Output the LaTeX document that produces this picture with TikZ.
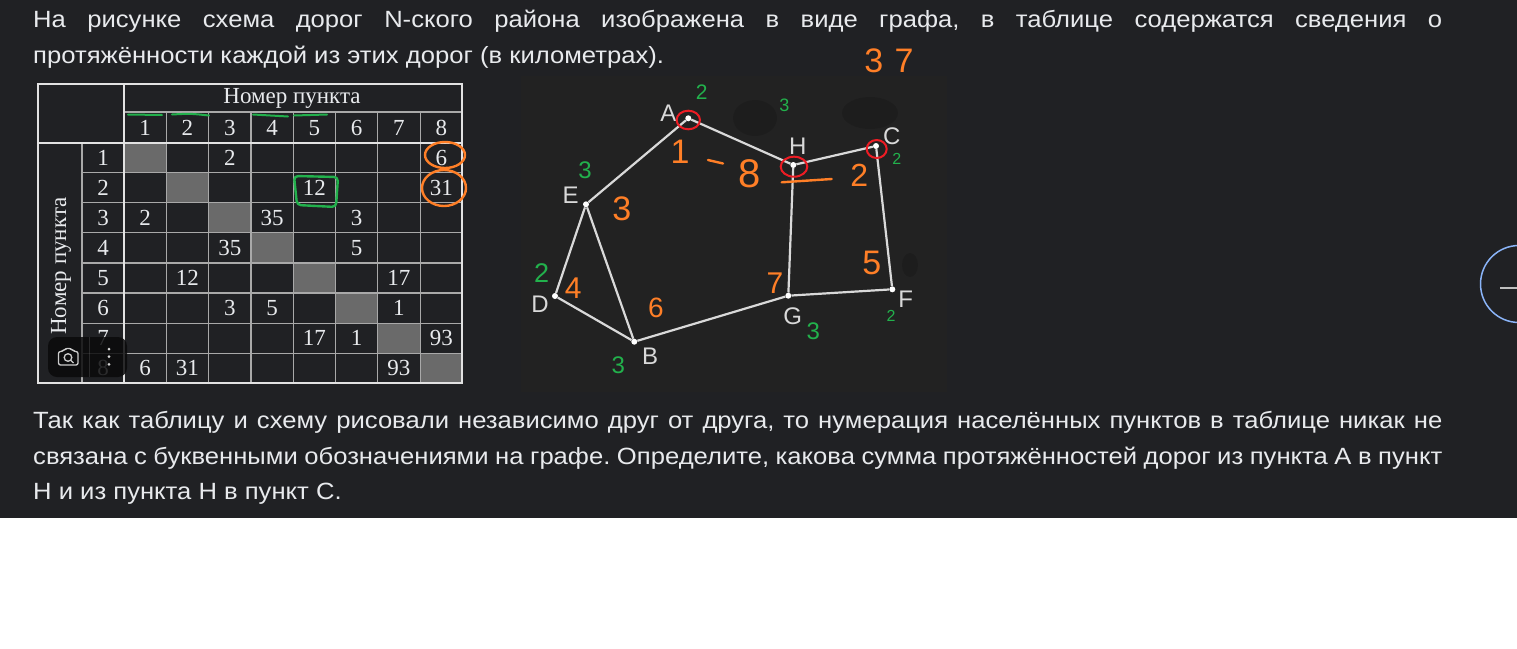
\documentclass[tikz,border=0pt]{standalone}
\usepackage{graphicx}
\usepackage{fontspec}
\setmainfont{Liberation Sans}
\newfontfamily\tablefont{Liberation Serif}
\definecolor{pagebg}{HTML}{202124}
\definecolor{pagetext}{HTML}{E8EAED}
\definecolor{graphbg}{HTML}{222222}
\definecolor{gridline}{HTML}{A9A9A9}
\definecolor{gridbold}{HTML}{E2E2E2}
\definecolor{diagcell}{HTML}{6A6A6A}
\definecolor{roadline}{HTML}{D9D9D9}
\definecolor{markorange}{HTML}{FF7F27}
\definecolor{markgreen}{HTML}{22B14C}
\definecolor{markred}{HTML}{ED1C24}
\definecolor{sideblue}{HTML}{8AB4F8}
\newcommand{\wideline}[1]{\scalebox{1.09}[1]{#1}}
\frenchspacing
\begin{document}
\begin{tikzpicture}
[
    x=1pt, y=-1pt,
    textline/.style={anchor=base west, inner sep=0pt, text=pagetext, font=\fontsize{23.5}{26}\selectfont},
    cellnum/.style={text=pagetext, inner sep=0pt, font=\tablefont\fontsize{23}{24}\selectfont},
    town/.style={circle, fill=white, inner sep=0pt, minimum size=6pt},
    townlabel/.style={text=roadline, inner sep=0pt, font=\fontsize{24}{24}\selectfont},
    road/.style={draw=roadline, line width=2.2pt},
    orangemark/.style={text=markorange, inner sep=0pt, font=\fontsize{#1}{#1}\selectfont},
    greenmark/.style={text=markgreen, inner sep=0pt, font=\fontsize{#1}{#1}\selectfont},
    penline/.style={line width=2.4pt, line cap=round, line join=round}
]
    \useasboundingbox (0,0) rectangle (1517,648);
    \fill[white] (0,0) rectangle (1517,648);
    \fill[pagebg] (0,0) rectangle (1517,518);

    % text above and below the pictures
    \node [textline] (line1) at (33,27.5) {\wideline{\makebox[1292.7pt][s]{На рисунке схема дорог N-ского района изображена в виде графа, в таблице содержатся сведения о}}};
    \node [textline] (line2) at (33,63.5) {\wideline{протяжённости каждой из этих дорог (в километрах).}};
    \node [textline] (line3) at (33,428.5) {\wideline{\makebox[1292.7pt][s]{Так как таблицу и схему рисовали независимо друг от друга, то нумерация населённых пунктов в таблице никак не}}};
    \node [textline] (line4) at (33,464) {\wideline{\makebox[1292.7pt][s]{связана с буквенными обозначениями на графе. Определите, какова сумма протяжённостей дорог из пункта А в пункт}}};
    \node [textline] (line5) at (33,499.5) {\wideline{Н и из пункта Н в пункт С.}};

    % table
    \begin{scope}
        \foreach \i in {1,...,8}
            \fill [diagcell] ({124+(\i-1)*42.3},{142.5+(\i-1)*30.1}) rectangle ++(42.3,30.1);
        \foreach \i in {1,...,7} {
            \draw [gridline, line width=1.2pt] ({124+\i*42.3},112) -- ({124+\i*42.3},383);
            \draw [gridline, line width=1.2pt] (82,{142.5+\i*30.1}) -- (462,{142.5+\i*30.1});
        }
        \draw [gridline, line width=1.2pt] (124,112) -- (462,112);
        \draw [gridline, line width=1.2pt] (82,142.5) -- (82,383);
        \draw [gridbold, line width=2pt] (38,142.5) -- (462,142.5);
        \draw [gridbold, line width=2pt] (124,84) -- (124,383);
        \draw [gridbold, line width=2pt] (38,84) rectangle (462,383);

        \node [cellnum] (colhead) at (292,98) {Номер пункта};
        \node [cellnum, rotate=90] (rowhead) at (61,266) {Номер пункта};
        \foreach \i in {1,...,8} {
            \node [cellnum] (h\i) at ({124+(\i-0.5)*42.3},128) {\i};
            \node [cellnum] (r\i) at (103,{142.5+(\i-0.5)*30.1}) {\i};
        }
        \foreach \r/\c/\v in {1/3/2,1/8/6,2/5/12,2/8/31,3/1/2,3/4/35,3/6/3,4/3/35,4/6/5,5/2/12,5/7/17,
                              6/3/3,6/4/5,6/7/1,7/5/17,7/6/1,7/8/93,8/1/6,8/2/31,8/7/93}
            \node [cellnum] (c\r\c) at ({124+(\c-0.5)*42.3},{142.5+(\r-0.5)*30.1}) {\v};
    \end{scope}

    % pen marks on the table
    \draw [markgreen, penline, line width=2pt] (128,114.5) -- (162,115);
    \draw [markgreen, penline, line width=2pt] (172,114.5) .. controls (190,113.5) .. (209,115.5);
    \draw [markgreen, penline, line width=2pt] (253,114.5) .. controls (270,115) .. (288,116.5);
    \draw [markgreen, penline, line width=2pt] (294,115.5) -- (327,114.5);
    \draw [markgreen, penline, rounded corners=4pt] (294,176) -- (338,177) -- (336,207) -- (297,205) -- cycle;
    \draw [markorange, penline] (445,155) ellipse (20 and 13);
    \draw [markorange, penline] (444,188) ellipse (22 and 18);

    % image overlay buttons
    \fill [black!70!pagebg, opacity=0.85, rounded corners=9pt] (48,337) rectangle (127,377);
    \draw [white, opacity=0.12] (89,337) -- (89,377);
    \draw [white!80!black, line width=1.3pt, rounded corners=2pt]
        (58.5,351.5) -- (63,351.5) -- (65,348.5) -- (71.5,348.5) -- (73.5,351.5) -- (78,351.5) -- (78,365) -- (58.5,365) -- cycle;
    \draw [white!80!black, line width=1.3pt] (68,357.5) circle (3.8);
    \draw [white!80!black, line width=1.3pt] (70.8,360.3) -- (73.5,363);
    \foreach \y in {349,356.7,364.3}
        \fill [white!85!black] (109,\y) circle (1.5);

    % graph of roads
    \fill [graphbg] (521,76) rectangle (947,392);
    \fill [black, opacity=0.12] (755,118) ellipse (22 and 18);
    \fill [black, opacity=0.12] (870,113) ellipse (28 and 16);
    \fill [black, opacity=0.12] (910,265) ellipse (8 and 12);

    \node [town] (A) at (688.3,118.3) {};
    \node [town] (H) at (793.3,165) {};
    \node [town] (C) at (876,146) {};
    \node [town] (E) at (586,204.3) {};
    \node [town] (D) at (555,296) {};
    \node [town] (B) at (634.3,341.7) {};
    \node [town] (G) at (788.3,295.7) {};
    \node [town] (F) at (892.3,289.3) {};

    \foreach \p/\q in {A/E,A/H,H/C,H/G,C/F,G/F,G/B,E/D,E/B,D/B}
        \draw [road] (\p) -- (\q);

    \node [townlabel] (lA) at (668.3,113.3) {A};
    \node [townlabel] (lH) at (797.7,146.7) {H};
    \node [townlabel] (lC) at (891.7,136) {C};
    \node [townlabel] (lE) at (570.7,195.3) {E};
    \node [townlabel] (lD) at (540,304.3) {D};
    \node [townlabel] (lB) at (650,356) {B};
    \node [townlabel] (lG) at (792.7,316.7) {G};
    \node [townlabel] (lF) at (905.7,299) {F};

    % pen marks on the graph
    \draw [markred, penline, line width=2pt] (688.3,120) ellipse (11.7 and 9.3);
    \draw [markred, penline, line width=2pt] (794,166.7) ellipse (13.3 and 10);
    \draw [markred, penline, line width=2pt] (876.7,149) ellipse (10 and 9);

    \node [orangemark=34] (sum) at (889,61) {3\,\,7};
    \node [orangemark=34] (nA) at (680,151.7) {1};
    \draw [markorange, penline] (708,160) -- (723,163.5);
    \node [orangemark=40] (nH) at (750,173.3) {8};
    \draw [markorange, penline] (781.7,182.3) -- (831.7,179);
    \node [orangemark=32] (nC) at (859.3,175) {2};
    \node [orangemark=34] (nE) at (621.7,208.3) {3};
    \node [orangemark=30] (nD) at (573.3,288.3) {4};
    \node [orangemark=28] (nB) at (656,308.3) {6};
    \node [orangemark=30] (nG) at (775,283.3) {7};
    \node [orangemark=34] (nF) at (871.7,263.3) {5};

    \node [greenmark=21] (dA) at (701.7,91.7) {2};
    \node [greenmark=18] (dX) at (784.3,105) {3};
    \node [greenmark=16] (dC) at (896.7,159.3) {2};
    \node [greenmark=24] (dE) at (585,170) {3};
    \node [greenmark=27] (dD) at (541.7,273.3) {2};
    \node [greenmark=24] (dB) at (618.3,365.7) {3};
    \node [greenmark=24] (dG) at (813.3,331.7) {3};
    \node [greenmark=16] (dF) at (891,315.7) {2};

    % side button
    \draw [sideblue, line width=1.5pt] (1519,284) circle (38.5);
    \draw [white!75!black, line width=2pt] (1500,288.3) -- (1517,288.3);
\end{tikzpicture}
\end{document}
